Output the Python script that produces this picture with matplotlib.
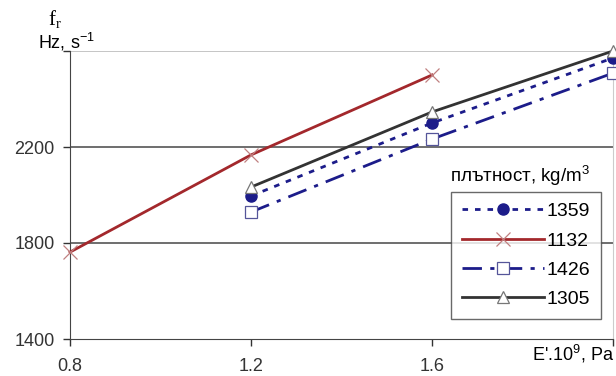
import matplotlib as mpl
import matplotlib.pyplot as plt

mpl.rcParams.update({
    "font.family": ["Liberation Sans", "DejaVu Sans"],
    "font.size": 12,
})

# data
x_1132 = [0.8, 1.2, 1.6]
y_1132 = [1762, 2167, 2500]
x_rest = [1.2, 1.6, 2.0]
y_1359 = [1996, 2300, 2571]
y_1426 = [1929, 2233, 2508]
y_1305 = [2033, 2346, 2600]
xticks = [0.8, 1.2, 1.6, 2.0]
xtick_labels = ["0.8", "1.2", "1.6", ""]
yticks = [1400, 1800, 2200, 2600]
ytick_labels = ["1400", "1800", "2200", ""]

BLUE = "#1c1c8a"
RED = "#a3282c"
BLACK = "#333333"

fig = plt.figure(figsize=(6.16, 3.76), dpi=100)
ax = fig.add_axes([70 / 616, 37 / 376, 543 / 616, 288 / 376])

for y in [1800, 2200, 2600]:
    ax.axhline(y, color="#555555" if y < 2600 else "#bbbbbb", lw=1.2, zorder=1)

l1, = ax.plot(x_rest, y_1359, color=BLUE, lw=2, ls=(0, (2, 2.5)), marker="o", ms=8,
              mfc=BLUE, mec=BLUE, zorder=3, clip_on=False, label="1359")
l2, = ax.plot(x_1132, y_1132, color=RED, lw=2, marker="x", ms=10, mew=0.9,
              mec="#c08080", zorder=3, clip_on=False, label="1132")
l3, = ax.plot(x_rest, y_1426, color=BLUE, lw=2, ls=(0, (7, 3, 1.5, 3)), marker="s", ms=8,
              mfc="white", mec="#555599", mew=0.9, zorder=3, clip_on=False, label="1426")
l4, = ax.plot(x_rest, y_1305, color=BLACK, lw=2, marker="^", ms=9, mfc="white",
              mec="#777777", mew=0.9, zorder=4, clip_on=False, label="1305")

ax.set_xlim(0.8, 2.0)
ax.set_ylim(1400, 2600)
ax.set_xticks(xticks)
ax.set_xticklabels(xtick_labels)
ax.set_yticks(yticks)
ax.set_yticklabels(ytick_labels)
ax.tick_params(axis="both", direction="out", length=5, width=1, colors="#333333",
               labelsize=13, pad=6)
ax.tick_params(axis="x", pad=9)
ax.spines["top"].set_visible(False)
ax.spines["right"].set_color("#cccccc")
ax.spines["left"].set_color("#444444")
ax.spines["bottom"].set_color("#444444")

# axis labels as free text
fig.text(48 / 616, 1 - 20 / 376, "f$_\\mathregular{r}$", fontsize=15, ha="left", va="center",
         family="Liberation Serif")
fig.text(38 / 616, 1 - 42 / 376, "Hz, s$^{\\mathregular{-1}}$", fontsize=13, ha="left", va="center")
fig.text(614 / 616, 1 - 354 / 376, "E'.10$^{\\mathregular{9}}$, Pa", fontsize=13, ha="right",
         va="center")

# legend: title sits above the box, outside it
fig.text(520 / 616, 1 - 176 / 376, "плътност, kg/m$^{\\mathregular{3}}$", fontsize=13.5,
         ha="center", va="center")
leg = ax.legend(handles=[l1, l2, l3, l4], loc="upper right",
                bbox_to_anchor=(601 / 616, 1 - 192 / 376), bbox_transform=fig.transFigure,
                frameon=True, fancybox=False, fontsize=14, handlelength=4.2,
                handletextpad=0.15, labelspacing=0.6, borderpad=0.55, borderaxespad=0)
leg.get_frame().set_edgecolor("#444444")
leg.get_frame().set_linewidth(1.0)

fig.savefig("out.png", dpi=100)
